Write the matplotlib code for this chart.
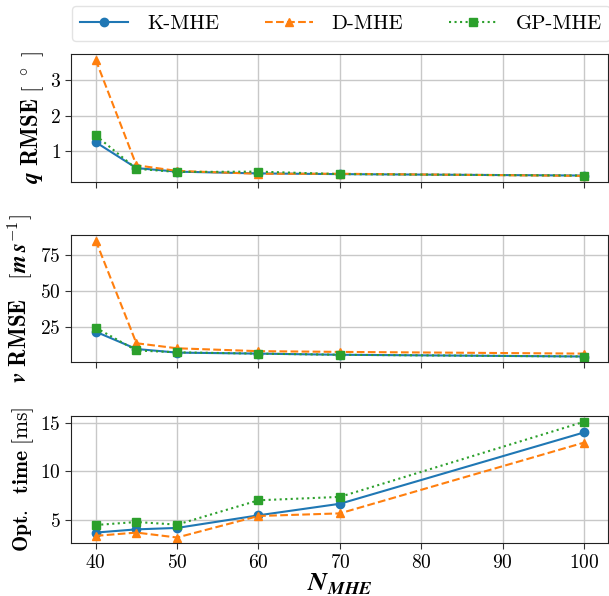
import matplotlib
matplotlib.use("Agg")
import matplotlib.pyplot as plt

plt.rcParams['mathtext.fontset'] = 'cm'
plt.rcParams['font.family'] = ['cmr10', 'DejaVu Serif']
plt.rcParams['axes.formatter.use_mathtext'] = True

N = [40, 45, 50, 60, 70, 100]
x_ticks = [40, 50, 60, 70, 80, 90, 100]
labels = ['K-MHE', 'D-MHE', 'GP-MHE']

q_k = [1.25, 0.52, 0.42, 0.37, 0.35, 0.31]
q_d = [3.57, 0.60, 0.44, 0.36, 0.36, 0.30]
q_gp = [1.44, 0.50, 0.41, 0.42, 0.35, 0.31]

v_k = [21.5, 9.5, 7.0, 6.3, 5.5, 4.3]
v_d = [84.8, 13.5, 10.0, 8.0, 7.5, 6.3]
v_gp = [24.3, 8.5, 7.2, 6.3, 5.5, 4.3]

t_k = [3.67, 4.0, 4.15, 5.45, 6.64, 14.0]
t_d = [3.33, 3.67, 3.16, 5.38, 5.65, 12.95]
t_gp = [4.45, 4.76, 4.49, 7.0, 7.35, 15.1]

W, H = 609, 596
fig = plt.figure(figsize=(W / 100, H / 100), dpi=100)

left, right = 71.3, 608.4
boxes = [(54, 181.7), (234.7, 362.3), (416, 543.3)]
axes = []
for top, bot in boxes:
    ax = fig.add_axes([left / W, 1 - bot / H, (right - left) / W, (bot - top) / H])
    axes.append(ax)

colors = ['#1f77b4', '#ff7f0e', '#2ca02c']
styles = [dict(ls='-', marker='o'), dict(ls='--', marker='^'), dict(ls=':', marker='s')]

datasets = [(q_k, q_d, q_gp), (v_k, v_d, v_gp), (t_k, t_d, t_gp)]
ylabels = [r'$\boldsymbol{q}\ \mathbf{RMSE}\ [\ ^\circ\ ]$',
           r'$\boldsymbol{v}\ \mathbf{RMSE}\quad[\boldsymbol{m}\,\boldsymbol{s}^{-1}]$',
           r'$\mathbf{Opt.\ \ time}\ [\mathrm{ms}]$']
ysizes = [16.5, 16.5, 15.5]
yticks = [[1, 2, 3], [25, 50, 75], [5, 10, 15]]

handles = []
for i, (ax, data) in enumerate(zip(axes, datasets)):
    for j, d in enumerate(data):
        h, = ax.plot(N, d, color=colors[j], lw=1.5, ms=6, **styles[j], label=labels[j])
        if i == 0:
            handles.append(h)
    ax.set_xticks(x_ticks)
    ax.set_yticks(yticks[i])
    ax.grid(True, color='#c8c8c8', lw=1.0)
    ax.set_axisbelow(True)
    ax.set_ylabel(ylabels[i], fontsize=ysizes[i], labelpad=3)
    ax.tick_params(labelsize=14, color='#333333', length=4)
    for s in ax.spines.values():
        s.set_color('#222222')
    if i < 2:
        ax.tick_params(labelbottom=False)
    ax.set_xlim(37, 103)

axes[2].set_xlabel(r'$\boldsymbol{N}_{\boldsymbol{MHE}}$', fontsize=19, labelpad=0)
fig.align_ylabels(axes)

fig.legend(handles=handles, loc='upper left', bbox_to_anchor=(72 / W, 1 - 6 / H),
           ncol=3, fontsize=15, columnspacing=2.2, handlelength=2.3,
           handletextpad=0.9, borderpad=0.4, borderaxespad=0.0,
           frameon=True, edgecolor='#dddddd')

fig.savefig('out.png', dpi=100)
